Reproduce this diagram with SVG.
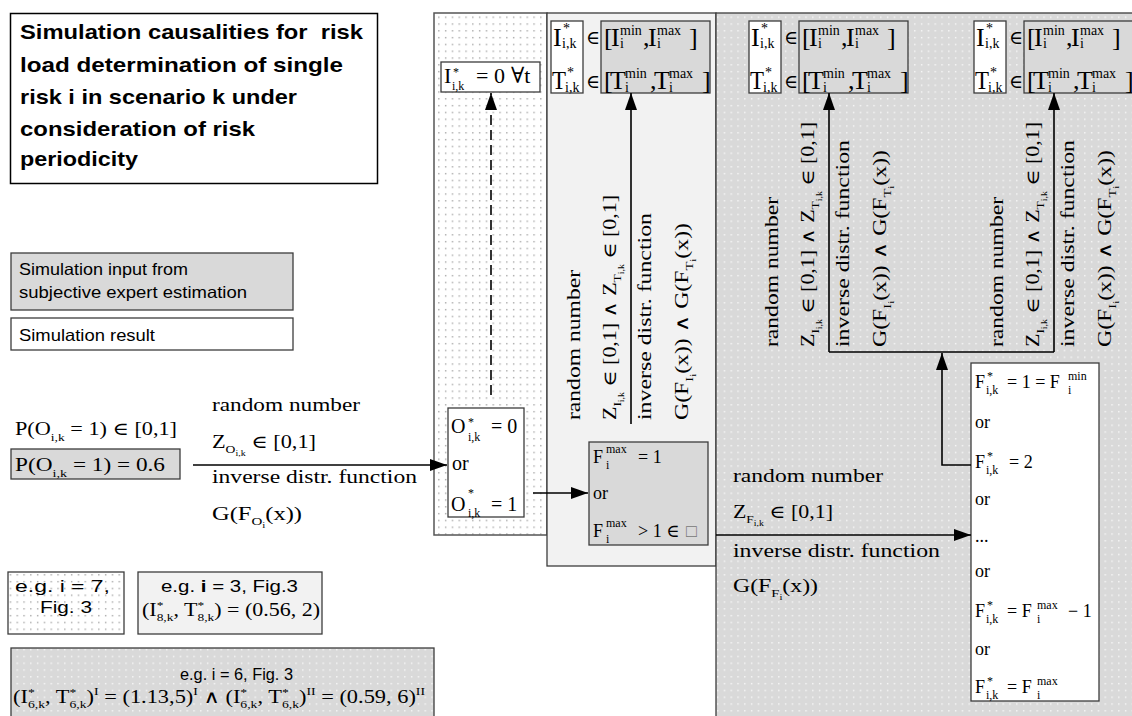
<svg xmlns="http://www.w3.org/2000/svg" width="1132" height="716" viewBox="0 0 1132 716">
<defs>
<style>
.m{font-family:"Liberation Serif","DejaVu Serif","Times New Roman",serif;font-size:18px;fill:#000}
.L{font-size:26px}
.E{font-size:19px}
.M{font-size:20px}
.s2{font-size:14px}
.s{font-size:11px}
.ss{font-size:8px}
.and{font-family:"DejaVu Serif",serif;font-weight:normal}
.sa{font-family:"Liberation Sans",Arial,sans-serif;font-size:16.5px;fill:#000}
.ttl{font-family:"Liberation Sans",Arial,sans-serif;font-weight:bold;font-size:21px;fill:#000;white-space:pre}
.bx{stroke:#3c3c3c;stroke-width:1.3}
.w{fill:#fff}
.g{fill:#d9d9d9}
.lg{fill:#f2f2f2}
.c{stroke:#000;stroke-width:1.6;fill:none}
</style>
<pattern id="dotW" width="6.8" height="6.8" patternUnits="userSpaceOnUse"><rect width="6.8" height="6.8" fill="#fff"/><rect x="3" y="3" width="1.3" height="1.3" fill="#999"/></pattern>
<pattern id="dotG" width="6.8" height="6.8" patternUnits="userSpaceOnUse"><rect width="6.8" height="6.8" fill="#d9d9d9"/><rect x="3" y="3" width="1.3" height="1.3" fill="#fff"/></pattern>
<marker id="ah" markerUnits="userSpaceOnUse" markerWidth="17" markerHeight="12" refX="17" refY="6" orient="auto"><path d="M0,0 L17,6 L0,12 Z" fill="#000"/></marker>
<g id="IT">
<rect class="bx w" x="0" y="0" width="32" height="72"/>
<rect class="bx g" x="50" y="0" width="109" height="72"/>
<text class="m">
<tspan x="2" y="25" class="L">I</tspan><tspan x="12" y="12" class="s2">*</tspan><tspan x="11" y="27" class="s2">i,k</tspan>
<tspan x="35" y="23" class="E">∈</tspan>
<tspan x="53" y="25" class="L">[</tspan><tspan x="60" y="25" class="L">I</tspan><tspan x="69" y="14" class="s2">min</tspan><tspan x="69" y="27" class="s2">i</tspan>
<tspan x="92" y="25" class="L">,</tspan><tspan x="97" y="25" class="L">I</tspan><tspan x="106" y="14" class="s2">max</tspan><tspan x="106" y="27" class="s2">i</tspan>
<tspan x="138" y="25" class="L">]</tspan>
<tspan x="1" y="68" class="L" textLength="14" lengthAdjust="spacingAndGlyphs">T</tspan><tspan x="16" y="56" class="s2">*</tspan><tspan x="14" y="71" class="s2">i,k</tspan>
<tspan x="35" y="67" class="E">∈</tspan>
<tspan x="53" y="68" class="L">[</tspan><tspan x="59" y="68" class="L">T</tspan><tspan x="74" y="57" class="s2">min</tspan><tspan x="74" y="71" class="s2">i</tspan>
<tspan x="99" y="68" class="L">,</tspan><tspan x="103" y="68" class="L">T</tspan><tspan x="118" y="57" class="s2">max</tspan><tspan x="118" y="71" class="s2">i</tspan>
<tspan x="151" y="68" class="L">]</tspan>
</text>
</g>
<g id="rot">
<text class="m" transform="translate(-51,0) rotate(-90)" textLength="150" lengthAdjust="spacingAndGlyphs">random number</text>
<text class="m" transform="translate(-15,0) rotate(-90)" textLength="225" lengthAdjust="spacingAndGlyphs">Z<tspan class="s" dy="5">I</tspan><tspan class="ss" dy="3">i,k</tspan><tspan dy="-8"> ∈ [0,1] </tspan><tspan class="and">∧</tspan><tspan> Z</tspan><tspan class="s" dy="5">T</tspan><tspan class="ss" dy="3">i,k</tspan><tspan dy="-8"> ∈ [0,1]</tspan></text>
<text class="m" transform="translate(20,0) rotate(-90)" textLength="207" lengthAdjust="spacingAndGlyphs">inverse distr. function</text>
<text class="m" transform="translate(57,0) rotate(-90)" textLength="197" lengthAdjust="spacingAndGlyphs">G(F<tspan class="s" dy="5">I</tspan><tspan class="ss" dy="3">i</tspan><tspan dy="-8">(x)) </tspan><tspan class="and">∧</tspan><tspan> G(F</tspan><tspan class="s" dy="5">T</tspan><tspan class="ss" dy="3">i</tspan><tspan dy="-8">(x))</tspan></text>
</g>
</defs>

<rect width="1132" height="716" fill="#fff"/>

<g id="title">
<rect x="10.5" y="13.5" width="367" height="170" fill="#fff" stroke="#000" stroke-width="1.5"/>
<text class="ttl" x="20" y="39" textLength="343" lengthAdjust="spacingAndGlyphs">Simulation causalities for  risk</text>
<text class="ttl" x="20" y="72" textLength="323" lengthAdjust="spacingAndGlyphs">load determination of single</text>
<text class="ttl" x="20" y="104" textLength="277" lengthAdjust="spacingAndGlyphs">risk i in scenario k under</text>
<text class="ttl" x="20" y="136" textLength="235" lengthAdjust="spacingAndGlyphs">consideration of risk</text>
<text class="ttl" x="20" y="166" textLength="118" lengthAdjust="spacingAndGlyphs">periodicity</text>
</g>

<g id="legend-input">
<rect class="bx g" x="11" y="253" width="282" height="57"/>
<text class="sa" x="19" y="275" textLength="169" lengthAdjust="spacingAndGlyphs">Simulation input from</text>
<text class="sa" x="19" y="298" textLength="228" lengthAdjust="spacingAndGlyphs">subjective expert estimation</text>
</g>
<g id="legend-result">
<rect class="bx w" x="11" y="318" width="282" height="32"/>
<text class="sa" x="19" y="341" textLength="136" lengthAdjust="spacingAndGlyphs">Simulation result</text>
</g>

<g id="p-occurrence">
<text class="m" x="15" y="435" textLength="162" lengthAdjust="spacingAndGlyphs">P(O<tspan class="s" dy="6">i,k</tspan><tspan dy="-6"> = 1) ∈ [0,1]</tspan></text>
<rect class="bx g" x="11" y="449" width="169" height="30"/>
<text class="m" x="15" y="471" textLength="150" lengthAdjust="spacingAndGlyphs">P(O<tspan class="s" dy="6">i,k</tspan><tspan dy="-6"> = 1) = 0.6</tspan></text>
</g>

<g id="col-dotted">
<rect x="434" y="13" width="113" height="522" fill="url(#dotW)" stroke="#555" stroke-width="1.5"/>
</g>
<g id="col-light">
<rect class="bx lg" x="547" y="13" width="169" height="553"/>
</g>
<g id="region-gray">
<rect class="bx" x="716" y="13" width="420" height="710" fill="url(#dotG)"/>
</g>

<g id="node-I0">
<rect class="bx w" x="441" y="62" width="99" height="30"/>
<text class="m"><tspan x="444" y="83" font-size="22">I</tspan><tspan x="453" y="76" font-size="12">*</tspan><tspan x="452" y="90" font-size="12">i,k</tspan><tspan x="476" y="83" font-size="22">= 0</tspan><tspan x="511" y="83" font-size="22">∀t</tspan></text>
</g>

<g id="node-O">
<rect class="bx w" x="448" y="408" width="76" height="109"/>
<text class="m M"><tspan x="451" y="433">O</tspan><tspan x="468" y="426" font-size="12">*</tspan><tspan x="468" y="441" font-size="12">i,k</tspan><tspan x="491" y="433">= 0</tspan></text>
<text class="m M" x="452" y="470">or</text>
<text class="m M"><tspan x="451" y="511">O</tspan><tspan x="468" y="497" font-size="12">*</tspan><tspan x="468" y="517" font-size="12">i,k</tspan><tspan x="491" y="511">= 1</tspan></text>
</g>

<g id="node-IT1"><use href="#IT" x="551" y="21"/></g>
<g id="node-IT2"><use href="#IT" x="749" y="21"/></g>
<g id="node-IT3"><use href="#IT" x="974" y="21"/></g>

<g id="node-Fmax">
<rect class="bx g" x="589" y="442" width="119" height="103"/>
<text class="m"><tspan x="593" y="463">F</tspan><tspan x="606" y="453" font-size="12">max</tspan><tspan x="606" y="469" font-size="12">i</tspan><tspan x="638" y="463">= 1</tspan></text>
<text class="m" x="593" y="499">or</text>
<text class="m"><tspan x="593" y="537">F</tspan><tspan x="606" y="527" font-size="12">max</tspan><tspan x="606" y="543" font-size="12">i</tspan><tspan x="638" y="537">&gt; 1 ∈</tspan><tspan x="686" y="537" fill="#777">□</tspan></text>
</g>

<g id="node-Fstar">
<rect class="bx w" x="971" y="363" width="128" height="338"/>
<text class="m"><tspan x="975" y="388">F</tspan><tspan x="987" y="380" font-size="12">*</tspan><tspan x="986" y="394" font-size="12">i,k</tspan><tspan x="1007" y="388">= 1 = F</tspan><tspan x="1068" y="380" font-size="12">min</tspan><tspan x="1068" y="394" font-size="12">i</tspan></text>
<text class="m" x="975" y="428">or</text>
<text class="m"><tspan x="975" y="468">F</tspan><tspan x="987" y="460" font-size="12">*</tspan><tspan x="986" y="474" font-size="12">i,k</tspan><tspan x="1009" y="468">= 2</tspan></text>
<text class="m" x="975" y="505">or</text>
<text class="m" x="975" y="542">...</text>
<text class="m" x="975" y="577">or</text>
<text class="m"><tspan x="975" y="617">F</tspan><tspan x="987" y="609" font-size="12">*</tspan><tspan x="986" y="623" font-size="12">i,k</tspan><tspan x="1007" y="617">= F</tspan><tspan x="1037" y="609" font-size="12">max</tspan><tspan x="1037" y="623" font-size="12">i</tspan><tspan x="1068" y="617">− 1</tspan></text>
<text class="m" x="975" y="655">or</text>
<text class="m"><tspan x="975" y="693">F</tspan><tspan x="987" y="685" font-size="12">*</tspan><tspan x="986" y="699" font-size="12">i,k</tspan><tspan x="1007" y="693">= F</tspan><tspan x="1037" y="685" font-size="12">max</tspan><tspan x="1037" y="699" font-size="12">i</tspan></text>
</g>

<g id="labels-col2"><use href="#rot" x="631" y="420"/></g>
<g id="labels-right1"><use href="#rot" x="829" y="347"/></g>
<g id="labels-right2"><use href="#rot" x="1054" y="347"/></g>

<g id="label-left">
<text class="m" x="212" y="411" textLength="148" lengthAdjust="spacingAndGlyphs">random number</text>
<text class="m" x="212" y="448" textLength="104" lengthAdjust="spacingAndGlyphs">Z<tspan class="s" dy="5">O</tspan><tspan class="ss" dy="3">i,k</tspan><tspan dy="-8"> ∈ [0,1]</tspan></text>
<text class="m" x="212" y="483" textLength="205" lengthAdjust="spacingAndGlyphs">inverse distr. function</text>
<text class="m" x="212" y="520" textLength="90" lengthAdjust="spacingAndGlyphs">G(F<tspan class="s" dy="5">O</tspan><tspan class="ss" dy="3">i</tspan><tspan dy="-8">(x))</tspan></text>
</g>

<g id="label-bottom-right">
<text class="m" x="733" y="482" textLength="150" lengthAdjust="spacingAndGlyphs">random number</text>
<text class="m" x="733" y="518" textLength="100" lengthAdjust="spacingAndGlyphs">Z<tspan class="s" dy="5">F</tspan><tspan class="ss" dy="3">i,k</tspan><tspan dy="-8"> ∈ [0,1]</tspan></text>
<text class="m" x="733" y="557" textLength="207" lengthAdjust="spacingAndGlyphs">inverse distr. function</text>
<text class="m" x="733" y="592" textLength="85" lengthAdjust="spacingAndGlyphs">G(F<tspan class="s" dy="5">F</tspan><tspan class="ss" dy="3">i</tspan><tspan dy="-8">(x))</tspan></text>
</g>

<g id="connectors">
<line class="c" x1="193" y1="465" x2="447" y2="465" marker-end="url(#ah)"/>
<line class="c" x1="491" y1="395" x2="491" y2="93" stroke-dasharray="10 5" marker-end="url(#ah)"/>
<line class="c" x1="533" y1="493" x2="588" y2="493" marker-end="url(#ah)"/>
<line class="c" x1="631" y1="424" x2="631" y2="93" marker-end="url(#ah)"/>
<path class="c" d="M829,352 V93" marker-end="url(#ah)"/>
<path class="c" d="M1054,352 V93" marker-end="url(#ah)"/>
<path class="c" d="M829,352 H1054"/>
<path class="c" d="M971,465 H942 V353" marker-end="url(#ah)"/>
<line class="c" x1="716" y1="535" x2="971" y2="535" marker-end="url(#ah)"/>
</g>

<g id="example-7">
<rect class="bx" x="8" y="572" width="116" height="62" fill="url(#dotW)"/>
<text class="sa" x="15" y="592" textLength="95" lengthAdjust="spacingAndGlyphs">e.g. i = 7,</text>
<text class="sa" x="40" y="613" textLength="52" lengthAdjust="spacingAndGlyphs">Fig. 3</text>
</g>
<g id="example-3">
<rect class="bx lg" x="138" y="572" width="184" height="62"/>
<text class="sa" x="161" y="592" textLength="137" lengthAdjust="spacingAndGlyphs">e.g. <tspan font-weight="bold">i</tspan> = 3, Fig.3</text>
<text class="m" x="142" y="616" textLength="178" lengthAdjust="spacingAndGlyphs">(I<tspan class="s" dy="-7">*</tspan><tspan class="s" dx="-5.5" dy="12">8,k</tspan><tspan dy="-5">, T</tspan><tspan class="s" dy="-7">*</tspan><tspan class="s" dx="-5.5" dy="12">8,k</tspan><tspan dy="-5">) = (0.56, 2)</tspan></text>
</g>
<g id="example-6">
<rect class="bx" x="11" y="648" width="423" height="75" fill="url(#dotG)"/>
<text class="sa" x="180" y="680" textLength="113" lengthAdjust="spacingAndGlyphs">e.g. i = 6, Fig. 3</text>
<text class="m" x="13" y="703" textLength="412" lengthAdjust="spacingAndGlyphs">(I<tspan class="s" dy="-7">*</tspan><tspan class="s" dx="-5.5" dy="12">6,k</tspan><tspan dy="-5">, T</tspan><tspan class="s" dy="-7">*</tspan><tspan class="s" dx="-5.5" dy="12">6,k</tspan><tspan dy="-5">)</tspan><tspan class="s" dy="-8">I</tspan><tspan dy="8"> = (1.13,5)</tspan><tspan class="s" dy="-8">I</tspan><tspan dy="8"> </tspan><tspan class="and">∧</tspan><tspan> (I</tspan><tspan class="s" dy="-7">*</tspan><tspan class="s" dx="-5.5" dy="12">6,k</tspan><tspan dy="-5">, T</tspan><tspan class="s" dy="-7">*</tspan><tspan class="s" dx="-5.5" dy="12">6,k</tspan><tspan dy="-5">)</tspan><tspan class="s" dy="-8">II</tspan><tspan dy="8"> = (0.59, 6)</tspan><tspan class="s" dy="-8">II</tspan></text>
</g>
</svg>
